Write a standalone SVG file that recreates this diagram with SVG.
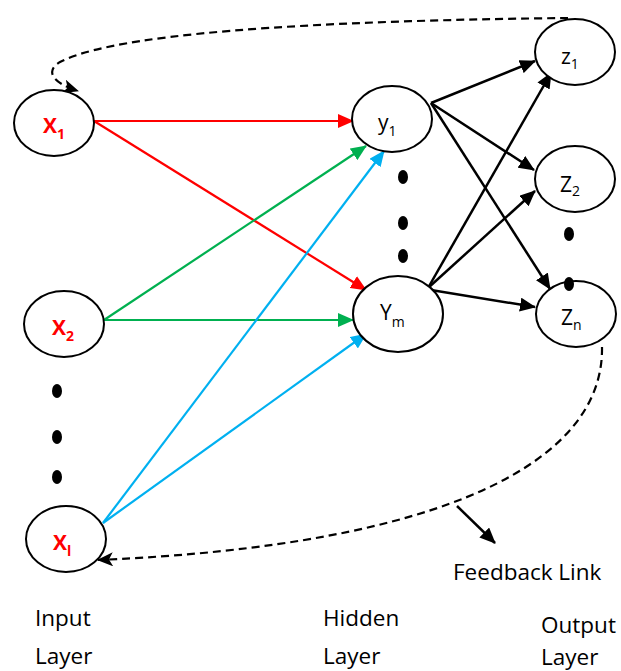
<svg xmlns="http://www.w3.org/2000/svg" width="621" height="671" viewBox="0 0 621 671">
  <style>
    .node ellipse { fill: #ffffff; stroke: #000000; stroke-width: 2; }
    .lbl { font-family: "Open Sans", "Liberation Sans", sans-serif; font-size: 21px; fill: #000000; }
    .in { fill: #ff0000; font-weight: bold; }
    .sub { font-size: 14px; }
    .cap { font-family: "Open Sans", "Liberation Sans", sans-serif; font-size: 22.5px; fill: #000000; }
    .dot { fill: #000000; }
    .red { stroke: #ff0000; stroke-width: 2.2; fill: none; marker-end: url(#ahRed); }
    .green { stroke: #00b050; stroke-width: 2.2; fill: none; marker-end: url(#ahGreen); }
    .blue { stroke: #00b0f0; stroke-width: 2.2; fill: none; marker-end: url(#ahBlue); }
    .black { stroke: #000000; stroke-width: 2.5; fill: none; marker-end: url(#ahBlack); }
    .fb { stroke: #000000; stroke-width: 2.2; fill: none; stroke-dasharray: 8 5; marker-end: url(#ahFb); }
  </style>
  <defs>
    <marker id="ahRed" markerUnits="userSpaceOnUse" markerWidth="16" markerHeight="14" refX="15" refY="7" orient="auto">
      <path d="M0,0 L16,7 L0,14 z" fill="#ff0000"/>
    </marker>
    <marker id="ahGreen" markerUnits="userSpaceOnUse" markerWidth="16" markerHeight="14" refX="15" refY="7" orient="auto">
      <path d="M0,0 L16,7 L0,14 z" fill="#00b050"/>
    </marker>
    <marker id="ahBlue" markerUnits="userSpaceOnUse" markerWidth="16" markerHeight="14" refX="15" refY="7" orient="auto">
      <path d="M0,0 L16,7 L0,14 z" fill="#00b0f0"/>
    </marker>
    <marker id="ahBlack" markerUnits="userSpaceOnUse" markerWidth="16" markerHeight="14" refX="15" refY="7" orient="auto">
      <path d="M0,0 L16,7 L0,14 z" fill="#000000"/>
    </marker>
    <marker id="ahFb" markerUnits="userSpaceOnUse" markerWidth="16" markerHeight="14" refX="15" refY="7" orient="auto">
      <path d="M0,0 L16,7 L0,14 L4,7 z" fill="#000000"/>
    </marker>
  </defs>

  <!-- connectors -->
  <g id="connectors">
    <!-- input to hidden -->
    <path class="red" d="M94,121 L353,121"/>
    <path class="red" d="M94,121 L366,290"/>
    <path class="green" d="M104,320 L366,146"/>
    <path class="green" d="M104,320 L353,320"/>
    <path class="blue" d="M103,523 L384,151"/>
    <path class="blue" d="M103,523 L366,334"/>
    <!-- hidden to output -->
    <path class="black" d="M431,103 L535,61"/>
    <path class="black" d="M431,103 L534,170"/>
    <path class="black" d="M431,103 L550,289"/>
    <path class="black" d="M428,288 L551,73"/>
    <path class="black" d="M428,288 L535,191"/>
    <path class="black" d="M431,290 L535,307"/>
    <!-- feedback links -->
    <path class="fb" d="M568,18 C380,20 125,28 60,62 C46,70 50,82 78,91"/>
    <path class="fb" d="M602,347 C604,460 450,545 98,560"/>
    <path class="black" d="M457,506 L495,543"/>
  </g>

  <!-- input layer -->
  <g id="x1" class="node">
    <ellipse cx="54" cy="123" rx="40" ry="33"/>
    <text class="lbl in" x="43" y="133">X<tspan class="sub" dy="6">1</tspan></text>
  </g>
  <g id="x2" class="node">
    <ellipse cx="64" cy="324" rx="40" ry="33"/>
    <text class="lbl in" x="52" y="335">X<tspan class="sub" dy="6">2</tspan></text>
  </g>
  <g id="xl" class="node">
    <ellipse cx="66" cy="539" rx="40" ry="33"/>
    <text class="lbl in" x="53" y="550">X<tspan class="sub" dy="6">l</tspan></text>
  </g>
  <g id="input-dots">
    <ellipse class="dot" cx="57" cy="391" rx="5" ry="7"/>
    <ellipse class="dot" cx="57" cy="437" rx="5" ry="7"/>
    <ellipse class="dot" cx="57" cy="477" rx="5" ry="7"/>
  </g>

  <!-- hidden layer -->
  <g id="y1" class="node">
    <ellipse cx="392" cy="119" rx="40" ry="33"/>
    <text class="lbl" x="378" y="130">y<tspan class="sub" dy="6">1</tspan></text>
  </g>
  <g id="ym" class="node">
    <ellipse cx="398" cy="314" rx="45" ry="38"/>
    <text class="lbl" x="380" y="320">Y<tspan class="sub" dy="7">m</tspan></text>
  </g>
  <g id="hidden-dots">
    <ellipse class="dot" cx="403" cy="177" rx="5" ry="7"/>
    <ellipse class="dot" cx="403" cy="223" rx="5" ry="7"/>
    <ellipse class="dot" cx="403" cy="256" rx="5" ry="7"/>
  </g>

  <!-- output layer -->
  <g id="z1" class="node">
    <ellipse cx="575" cy="52" rx="40" ry="33"/>
    <text class="lbl" x="561" y="64">z<tspan class="sub" dy="5">1</tspan></text>
  </g>
  <g id="z2" class="node">
    <ellipse cx="575" cy="179" rx="40" ry="33"/>
    <text class="lbl" x="560" y="192">Z<tspan class="sub" dy="4">2</tspan></text>
  </g>
  <g id="zn" class="node">
    <ellipse cx="576" cy="314" rx="40" ry="33"/>
    <text class="lbl" x="561" y="325">Z<tspan class="sub" dy="5">n</tspan></text>
  </g>
  <g id="output-dots">
    <ellipse class="dot" cx="569" cy="234" rx="5" ry="7"/>
    <ellipse class="dot" cx="569" cy="284" rx="5" ry="7"/>
  </g>

  <!-- captions -->
  <g id="captions">
    <text class="cap" x="453" y="580">Feedback Link</text>
    <text class="cap" x="35" y="626">Input</text>
    <text class="cap" x="35" y="664">Layer</text>
    <text class="cap" x="323" y="626">Hidden</text>
    <text class="cap" x="323" y="664">Layer</text>
    <text class="cap" x="541" y="633">Output</text>
    <text class="cap" x="541" y="665">Layer</text>
  </g>
</svg>
